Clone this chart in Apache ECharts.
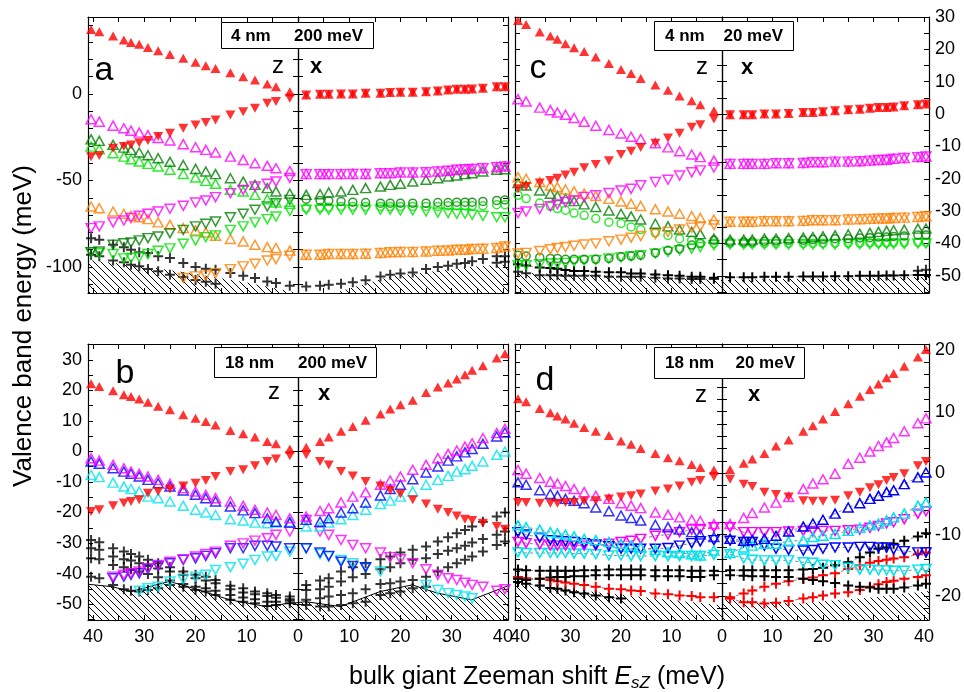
<!DOCTYPE html>
<html><head><meta charset="utf-8">
<script src="https://cdn.jsdelivr.net/npm/echarts@6/dist/echarts.min.js"></script>
<style>html,body{margin:0;padding:0;background:#fff}#c{width:964px;height:692px}</style>
</head><body><div id="c"></div>
<script>
// ---------- field values (bulk giant Zeeman shift, meV) ----------
const E_field = [1.6, 4.3, 6.0, 8.4, 10.7, 13.2, 16.1, 18.0, 20.0, 22.4, 25.0, 27.3, 29.3, 31.0, 32.6, 34.0, 36.1, 38.8, 40.4];
const E_desc = E_field.slice().reverse();   // z-half is drawn 40 -> 0

// ---------- tick values / labels ----------
const xTicks = [-40,-35,-30,-25,-20,-15,-10,-5,0,5,10,15,20,25,30,35,40];
const xLabels = [-40,-30,-20,-10,0,10,20,30,40];
const a_yTicks = [-110,-100,-90,-80,-70,-60,-50,-40,-30,-20,-10,0,10,20,30,40];
const a_yLabels = [-100,-50,0];
const c_yTicks = [-55,-50,-45,-40,-35,-30,-25,-20,-15,-10,-5,0,5,10,15,20,25,30];
const c_yLabels = [-50,-40,-30,-20,-10,0,10,20,30];
const b_yTicks = [-55,-50,-45,-40,-35,-30,-25,-20,-15,-10,-5,0,5,10,15,20,25,30,35];
const b_yLabels = [-50,-40,-30,-20,-10,0,10,20,30];
const d_yTicks = [-22,-20,-18,-16,-14,-12,-10,-8,-6,-4,-2,0,2,4,6,8,10,12,14,16,18,20];
const d_yLabels = [-20,-10,0,10,20];

// ---------- panel a (4 nm, 200 meV) ----------
const a_z_redUp = [37.3,36.0,33.5,31.2,29.8,28.7,26.9,25.0,22.9,20.6,18.3,16.3,14.8,12.3,10.0,8.1,5.8,4.2,1.3];
const a_z_redDn = [-36.2,-35.6,-31.3,-30.4,-29.4,-28.1,-26.9,-24.6,-22.7,-19.8,-17.9,-16.5,-15.0,-12.1,-10.2,-8.3,-5.4,-4.4,-2.5];
const a_z_magUp = [-14.6,-16.0,-18.3,-19.8,-21.2,-22.3,-23.8,-25.4,-26.9,-29.0,-30.8,-32.3,-33.8,-36.2,-38.1,-40.0,-41.5,-42.9,-44.5];
const a_z_magDn = [-77.5,-76.5,-74.2,-73.1,-71.7,-70.4,-69.2,-67.9,-66.3,-64.6,-62.7,-61.5,-59.6,-57.3,-55.4,-53.5,-51.9,-50.6,-48.5];
const a_z_dgUp = [-26.2,-27.1,-29.4,-31.0,-32.3,-33.8,-35.4,-37.1,-39.2,-41.0,-43.3,-44.8,-46.3,-48.7,-50.6,-52.5,-54.4,-56.3,-57.5];
const a_z_dgDn = [-91.5,-91.0,-87.1,-86.2,-85.8,-84.6,-83.3,-82.3,-80.4,-78.5,-76.5,-75.0,-73.7,-71.2,-69.2,-66.9,-65.0,-63.1,-61.2];
const a_z_lgUp = [-30.4,-31.9,-34.2,-36.2,-37.7,-39.0,-40.4,-41.9,-43.8,-46.2,-48.3,-50.2,-51.9,-55.4,-56.3,-58.3,-60.8,-62.7,-63.5];
const a_z_lgDn = [-91.5,-92.0,-92.5,-95.0,-94.8,-94.2,-92.5,-90.6,-89.2,-86.5,-84.6,-82.7,-81.7,-78.5,-76.5,-74.2,-72.3,-70.8,-67.5];
const a_z_orUp = [-65.0,-66.0,-67.9,-69.2,-70.4,-71.2,-72.3,-74.2,-75.6,-77.5,-78.8,-80.0,-81.9,-83.8,-85.2,-87.1,-88.5,-89.0,-90.5];
const a_z_orDn = [null,null,null,null,null,null,null,null,null,-106.3,-105.4,-104.8,-103.5,-101.2,-99.6,-98.1,-96.2,-95.4,-93.5];
const a_z_blk1 = [-83.3,-84.2,-87.1,-88.5,-90.0,-91.5,-91.9,-93.8,-94.8,-97.7,-100.0,-101.0,-101.5,-103.5,-105.0,-106.3,-108.3,-109.2,-110.8];
const a_z_blk2 = [-92.9,-93.8,-96.2,-97.3,-98.7,-99.6,-101.2,-102.5,-104.4,-105.8,-107.5,-108.5,-109.6,null,null,null,null,null,null];
const a_x_red = [-0.6,-0.2,-0.2,0.0,0.0,0.4,0.4,0.8,1.0,1.0,1.3,1.7,2.3,2.7,2.7,2.9,3.3,4.2,4.2];
const a_x_mag = [-46.3,-46.3,-46.3,-46.3,-46.2,-46.2,-45.8,-45.8,-45.4,-45.4,-45.2,-44.8,-44.4,-43.8,-43.5,-43.3,-42.9,-42.3,-41.9];
const a_x_dgUp = [-58.3,-57.9,-56.9,-56.3,-55.4,-54.4,-53.5,-52.5,-51.9,-50.6,-49.6,-48.7,-47.7,-47.1,-46.3,-45.8,-44.8,-43.8,-43.5];
const a_x_dgCirc = [-60.8,-61.5,-61.7,-62.1,-62.5,-62.7,-63.1,-63.1,-63.1,-63.1,-63.1,-62.7,-62.7,-62.5,-62.5,-62.5,-62.1,-61.5,-61.2];
const a_x_lgCirc = [-66.0,-65.6,-65.4,-65.0,-65.0,-65.0,-65.0,-65.0,-65.0,-65.0,-65.0,-65.0,-64.6,-64.6,-64.6,-64.6,-64.6,-64.0,-64.0];
const a_x_lgDn = [-66.9,-66.9,-66.9,-66.9,-66.9,-66.9,-66.9,-66.9,-67.3,-67.3,-67.9,-68.5,-68.8,-69.2,-69.2,-69.8,-70.4,-71.2,-71.2];
const a_x_or = [-92.9,-92.9,-92.5,-92.5,-92.5,-92.3,-91.9,-91.5,-91.3,-91.3,-91.0,-90.6,-90.4,-90.0,-90.0,-89.6,-89.4,-89.0,-88.1];
const a_x_blk1 = [-111.2,-110.8,-110.2,-109.6,-108.8,-107.7,-105.4,-104.4,-103.8,-103.1,-101.2,-100.0,-99.2,-98.1,-97.7,-96.7,-95.4,-93.8,-93.8];
const a_x_blk2 = [null,null,null,null,null,null,null,null,null,null,null,null,null,null,null,null,null,-97.5,-97.0];
const a_hatchZ_E = [41,30,20,10,0];
const a_hatchZ_v = [-96,-99.5,-104,-109,-115];
const a_hatchX_E = [0,7,18,35,41];
const a_hatchX_v = [-115,-115,-105.4,-99.6,-98.5];

// ---------- panel c (4 nm, 20 meV) ----------
const c_z_redUp = [28.9,27.7,25.4,24.1,23.1,21.7,20.5,19.3,17.6,15.6,13.8,12.5,11.0,9.0,7.4,5.6,4.1,2.9,1.0];
const c_z_redDn = [-23.1,-22.4,-21.3,-20.5,-19.8,-18.8,-18.0,-16.6,-15.6,-14.4,-12.5,-11.5,-10.3,-9.0,-7.4,-5.9,-4.1,-3.3,-1.5];
const c_z_magUp = [4.6,3.9,2.0,1.2,0.5,-0.2,-1.2,-2.4,-3.6,-4.9,-6.0,-7.0,-7.7,-9.0,-10.3,-11.5,-12.5,-13.3,-14.4];
const c_z_magDn = [-30.6,-30.1,-29.3,-28.5,-27.9,-27.2,-26.7,-25.6,-25.1,-24.4,-23.6,-23.1,-22.0,-21.0,-20.3,-19.0,-18.0,-17.4,-16.5];
const c_z_orUp = [-19.5,-20.0,-21.0,-22.1,-22.6,-23.3,-23.9,-24.6,-25.3,-26.2,-27.0,-27.7,-28.4,-29.4,-30.1,-30.8,-31.5,-32.1,-32.6];
const c_z_orDn = [-43.1,-42.9,-42.3,-41.8,-41.4,-41.1,-40.7,-40.3,-40.0,-39.3,-38.8,-38.2,-37.7,-37.1,-36.4,-35.7,-35.1,-34.7,-34.3];
const c_z_dgUp = [-21.3,-22.1,-23.6,-24.6,-25.3,-26.1,-26.9,-27.9,-28.7,-29.8,-30.8,-31.6,-32.6,-33.9,-34.7,-35.7,-36.4,-37.1,-38.5];
const c_z_lgCirc = [-25.1,-26.1,-27.5,-28.5,-29.2,-29.7,-30.6,-31.3,-32.3,-33.4,-33.8,-34.9,-35.7,-36.7,-37.5,-38.5,-39.0,-39.8,-40.0];
const c_z_dgCirc = [-43.6,-43.9,-44.3,-44.6,-44.6,-44.9,-44.9,-44.9,-44.9,-44.6,-44.1,-43.9,-43.6,-42.9,-42.1,-41.6,-40.5,-40.0,-39.0];
const c_z_lgDn = [-46.7,-46.7,-46.4,-46.2,-46.2,-46.0,-45.6,-45.3,-45.1,-44.6,-44.3,-43.9,-43.6,-43.1,-42.6,-42.1,-41.6,-41.1,-40.5];
const c_z_blk1 = [-46.4,-46.8,-47.4,-47.6,-47.8,-48.2,-48.5,-48.5,-48.7,-48.9,-48.9,-49.3,-49.3,-49.6,-49.8,-50.0,-50.3,-50.3,-50.6];
const c_z_blk2 = [-48.7,-49.2,-49.8,-49.8,-49.8,-50.0,-50.0,-50.0,-50.0,-50.3,-50.3,-50.3,-50.3,-50.6,-50.8,-50.8,-51.0,-51.0,-51.0];
const c_x_red = [-0.2,-0.2,-0.2,0.0,0.0,0.2,0.5,0.5,0.7,1.0,1.3,1.5,1.8,2.0,2.0,2.2,2.6,2.9,3.1];
const c_x_mag = [-15.4,-15.4,-15.4,-15.4,-15.2,-15.2,-15.1,-14.9,-14.9,-14.7,-14.7,-14.6,-14.4,-14.2,-14.1,-13.8,-13.6,-13.3,-13.1];
const c_x_or = [-33.3,-33.3,-33.3,-33.1,-33.1,-33.1,-33.0,-32.8,-32.8,-32.8,-32.6,-32.5,-32.4,-32.3,-32.3,-32.1,-32.0,-31.8,-31.6];
const c_x_dgUp = [-38.8,-38.8,-38.8,-38.5,-38.5,-38.3,-38.2,-38.0,-37.8,-37.5,-37.2,-37.0,-36.7,-36.4,-36.1,-35.9,-35.7,-35.4,-35.4];
const c_x_dgCirc = [-39.5,-39.5,-39.5,-39.3,-39.2,-39.0,-39.0,-38.8,-38.7,-38.5,-38.5,-38.3,-38.2,-38.0,-38.0,-37.8,-37.7,-37.4,-37.4];
const c_x_lgCirc = [-40.0,-40.0,-40.0,-40.0,-40.0,-40.0,-40.0,-40.0,-39.9,-39.9,-39.9,-39.9,-39.8,-39.8,-39.8,-39.7,-39.7,-39.6,-39.6];
const c_x_lgDn = [-40.3,-40.3,-40.3,-40.3,-40.3,-40.3,-40.3,-40.3,-40.3,-40.3,-40.2,-40.2,-40.2,-40.2,-40.2,-40.1,-40.1,-40.0,-40.0];
const c_x_blk1 = [-50.4,-50.4,-50.4,-50.3,-50.3,-50.3,-50.2,-50.2,-50.2,-50.1,-50.1,-50.0,-50.0,-50.0,-49.9,-49.9,-49.8,-49.7,-49.7];
const c_x_blk2 = [null,null,null,null,null,null,null,null,null,null,null,null,null,null,null,null,null,-48.4,-48.1];
const c_hatchZ_E = [41,20,0];
const c_hatchZ_v = [-49,-50,-51.3];
const c_hatchX_E = [0,20,41];
const c_hatchX_v = [-51.3,-50.8,-50.3];

// ---------- panel b (18 nm, 200 meV) ----------
const b_z_redUp = [22.2,21.3,19.9,18.6,18.0,17.2,16.1,14.8,13.7,12.0,10.9,9.8,8.7,6.9,5.8,4.7,3.3,2.5,0.8];
const b_z_redDn = [-19.7,-19.1,-17.8,-16.9,-16.4,-15.8,-13.7,-13.1,-12.3,-11.3,-10.4,-9.5,-8.2,-6.6,-6.0,-4.7,-3.3,-2.5,-1.4];
const b_z_magUp = [-2.2,-3.0,-4.4,-5.5,-6.6,-7.3,-8.2,-9.3,-10.6,-12.0,-13.1,-14.2,-15.3,-16.4,-17.8,-19.1,-20.0,-20.8,-21.9];
const b_z_blueUp = [-3.3,-4.0,-5.5,-6.6,-7.3,-8.2,-9.3,-10.4,-11.5,-12.8,-14.2,-15.3,-16.4,-18.0,-19.3,-20.2,-21.9,-23.0,-23.3];
const b_z_cyanUp = [-7.7,-8.4,-10.2,-11.5,-12.3,-13.1,-14.8,-15.3,-16.4,-17.8,-19.1,-20.0,-20.8,-22.2,-22.6,-23.3,-23.5,-23.3,-23.0];
const b_z_magDn = [null,null,-41.0,-40.4,-39.9,-39.3,-38.2,-37.2,-36.1,-35.3,-34.4,-33.6,-32.8,-30.9,-30.1,-29.2,-28.4,-27.3,-26.2];
const b_z_blueDn = [null,null,-41.5,-41.0,-40.4,-39.9,-38.5,-37.5,-36.6,-35.5,-35.0,-34.2,-33.3,-31.7,-31.7,-30.9,-30.9,-31.1,-31.7];
const b_z_cyanDn = [null,null,null,null,null,-45.6,-44.8,-44.3,-42.6,-41.8,-41.0,-40.4,-38.8,-37.9,-36.8,-35.5,-34.4,-34.2,-32.8];
const b_z_blkA = [-29.0,-29.7,-31.7,-32.8,-33.6,-34.4,-35.5,-36.6,-37.9,-39.3,-40.4,-41.0,-42.1,-44.0,-44.8,-45.9,-46.4,-47.0,-47.5];
const b_z_blkB = [-31.7,-32.2,-34.4,-35.3,-35.7,-36.6,-37.5,-38.3,-39.3,-40.4,-41.5,-42.3,-43.2,-45.1,-46.2,-46.8,-47.3,-47.9,-48.4];
const b_z_blkC = [-35.0,-35.3,-37.2,-37.9,-38.6,-39.3,-40.1,-41.2,-42.3,-43.4,-44.3,-44.8,-45.6,-47.0,-47.8,-48.4,-49.2,-49.2,-48.9];
const b_z_blkD = [-41.0,-41.5,-43.7,-45.1,-45.6,-45.9,-45.4,-44.8,-43.7,-44.3,-45.4,-45.9,-47.0,-48.6,-49.2,-49.7,-50.6,-50.3,-49.7];
const b_x_redUp = [1.4,3.3,4.7,6.6,8.2,10.2,12.3,13.9,15.3,16.8,19.3,21.1,22.4,23.7,25.1,26.6,28.1,30.6,32.0];
const b_x_redDn = [-1.1,-3.3,-4.4,-6.6,-8.0,-9.8,-11.3,-12.8,-13.9,-15.8,-17.2,-18.9,-20.0,-21.1,-22.2,-22.6,-23.5,-24.6,-25.5];
const b_x_magUp = [-21.3,-19.5,-18.6,-16.7,-14.8,-13.4,-10.9,-9.5,-8.2,-6.0,-4.4,-2.2,-0.8,0.3,1.6,2.7,4.4,6.0,7.4];
const b_x_blueUp = [-22.4,-23.0,-21.9,-20.0,-18.6,-16.7,-14.4,-12.3,-10.9,-9.1,-6.9,-4.9,-3.0,-1.6,-0.3,0.8,2.5,4.9,6.2];
const b_x_cyanUp = [-24.6,-24.6,-23.3,-22.2,-20.8,-19.1,-17.2,-16.1,-14.8,-13.1,-10.9,-9.3,-8.0,-6.6,-5.8,-4.7,-3.3,-1.1,0.0];
const b_x_magDn = [-22.4,-26.2,-27.3,-29.0,-30.6,-31.7,-33.1,-34.6,-35.3,-36.6,-38.6,-40.4,-41.5,-42.1,-43.0,-43.7,-44.3,-45.6,-45.1];
const b_x_blueDn = [-31.7,-33.1,-34.2,-36.1,-37.5,-37.9,null,null,null,null,null,null,null,null,null,null,null,null,null];
const b_x_cyanDn = [-31.7,-33.6,-34.4,-35.5,-36.6,-37.9,-39.3,null,null,null,-43.7,-45.4,-46.4,-47.0,-47.5,-48.1,null,null,null];
const b_x_blkA = [-43.7,-42.3,-41.5,-39.3,-37.9,-36.6,-35.3,-34.4,-33.1,-32.2,-31.1,-29.5,-28.1,-26.8,-25.7,-24.6,-23.0,-21.3,-20.0];
const b_x_blkB = [-45.4,-45.1,-44.3,-42.6,-41.2,-40.1,-38.6,-37.9,-36.6,-35.5,-35.0,-33.6,-32.5,-31.7,-30.9,-29.8,-28.7,-27.3,-26.2];
const b_x_blkC = [-48.6,-48.1,-47.5,-47.0,-46.4,-45.1,-43.4,-43.2,-42.6,-42.1,-41.0,-39.3,-37.9,-36.6,-35.5,-34.4,-32.8,-30.6,-29.5];
const b_x_blkD = [-50.3,-50.8,-50.8,-50.3,-49.7,-49.2,-47.0,-46.4,-45.9,-44.8,-44.3,null,null,null,null,null,null,null,null];
const b_hatchZ_E = [41,36.2,32.7,25.2,22.6,13.3,6.2,1.8,0];
const b_hatchZ_v = [-43.5,-44.3,-45.9,-42.6,-43.7,-48.6,-50.8,-49.7,-49.5];
const b_hatchX_E = [0,1.5,8.3,16,22.3,27.2,33.9,41];
const b_hatchX_v = [-49.5,-49.2,-50.8,-45.9,-43.7,-46.4,-48.6,-44.0];

// ---------- panel d (18 nm, 20 meV) ----------
const d_z_redUp = [12.1,11.6,10.5,9.8,9.3,8.8,8.1,7.4,6.8,6.1,5.2,4.7,4.0,3.2,2.5,2.0,1.4,0.9,0.5];
const d_z_redDn = [-4.8,-4.8,-4.9,-4.9,-4.9,-4.8,-4.8,-4.6,-4.5,-4.2,-3.9,-3.7,-3.4,-2.9,-2.6,-2.1,-1.5,-1.2,-0.6];
const d_z_magUp = [0.5,-0.1,-0.8,-1.4,-1.7,-2.1,-2.6,-3.1,-3.7,-4.2,-4.9,-5.3,-5.7,-6.4,-6.8,-7.2,-7.6,-7.8,-8.3];
const d_z_blueUp = [-1.5,-1.9,-2.8,-3.4,-3.7,-4.2,-4.5,-4.9,-5.6,-6.2,-6.9,-7.3,-7.7,-8.4,-8.8,-9.2,-9.6,-10.0,-10.4];
const d_z_cyanUp = [-8.5,-8.8,-9.2,-9.6,-9.8,-10.0,-10.3,-10.7,-10.9,-11.2,-11.5,-11.8,-12.1,-12.5,-12.9,-13.0,-13.2,-13.4,-12.6];
const d_z_blueDn = [-9.6,-10.0,-10.5,-10.9,-11.0,-11.1,-11.2,-11.4,-11.6,-11.9,-12.3,-12.3,-12.3,-12.3,-12.2,-11.8,-11.4,-11.1,-10.9];
const d_z_magDn = [-11.2,-11.4,-11.6,-11.8,-11.8,-11.8,-11.8,-11.8,-11.8,-11.5,-11.2,-11.0,-10.7,-10.2,-10.0,-9.6,-9.2,-9.1,-8.8];
const d_z_cyanDn = [-12.9,-13.0,-13.0,-13.0,-13.0,-13.0,-13.1,-13.1,-13.2,-13.4,-13.4,-13.5,-13.5,-13.5,-13.5,-13.5,-13.5,-13.5,-13.3];
const d_z_blk1 = [-15.7,-15.8,-15.9,-15.9,-15.9,-15.9,-15.9,-15.8,-15.8,-15.7,-15.7,-15.7,-15.7,-15.8,-15.8,-15.8,-15.9,-15.9,-15.9];
const d_z_blk2 = [-17.2,-17.4,-17.2,-17.0,-16.9,-16.9,-16.8,-16.8,-16.6,-16.6,-16.6,-16.6,-16.6,-16.8,-16.8,-16.8,-16.9,-16.9,-16.6];
const d_z_blk3 = [-17.7,-18.0,-18.3,-18.7,-18.8,-19.1,-19.4,-19.6,-19.9,-20.2,-20.4,null,null,null,null,null,null,null,null];
const d_z_redX = [-16.9,-17.1,-17.2,-17.4,-17.6,-17.8,-18.0,-18.2,-18.5,-18.8,-18.9,-19.1,-19.2,-19.6,-19.7,-19.9,-20.0,-20.2,-20.2];
const d_x_redUp = [0.6,1.6,2.3,3.2,4.4,5.4,6.8,7.7,8.8,10.0,11.3,12.5,13.6,14.5,15.5,16.2,17.4,18.9,20.1];
const d_x_redDn = [-1.0,-1.8,-2.2,-3.1,-3.5,-3.9,-4.5,-4.6,-4.6,-4.4,-3.7,-3.1,-2.4,-1.9,-1.2,-0.7,-0.1,1.2,1.9];
const d_x_magUp = [-8.3,-7.3,-6.5,-5.6,-4.8,-3.9,-2.6,-1.7,-1.0,-0.1,1.5,2.5,3.5,4.4,5.0,5.7,6.8,8.1,8.9];
const d_x_blueUp = [-10.7,-11.0,-10.9,-10.7,-10.2,-9.5,-8.7,-8.2,-7.6,-6.6,-5.6,-4.9,-4.2,-3.7,-3.1,-2.8,-1.8,-0.7,0.1];
const d_x_magDn = [-8.8,-9.6,-9.6,-9.6,-9.6,-9.5,-9.4,-9.4,-9.4,-9.4,-9.3,-9.2,-8.9,-8.6,-8.2,-8.0,-7.5,-6.6,-6.2];
const d_x_cyanUp = [-13.0,-12.1,-11.8,-11.5,-11.5,-11.1,-10.9,-10.4,-10.2,-9.9,-9.4,-8.9,-8.5,-8.2,-7.7,-7.2,-6.6,-5.3,-4.8];
const d_x_blueDn = [-11.0,-11.2,-11.2,-11.8,-12.3,-12.5,-12.6,-12.5,-12.3,-12.1,-12.1,-12.0,-12.0,-12.1,-12.1,-12.4,-12.7,-12.9,-12.9];
const d_x_cyanDn = [-13.2,-13.9,-14.1,-14.2,-14.2,-14.2,-14.5,-14.6,-14.9,-15.0,-15.4,-15.7,-15.7,-15.8,-15.8,-15.9,-15.9,-15.7,-15.6];
const d_x_blk1 = [-15.8,-15.8,-15.8,-15.8,-15.8,-15.8,-15.7,-15.6,-15.4,-15.0,-14.5,-13.7,-12.9,-12.3,-12.1,-11.5,-11.0,-10.3,-9.8];
const d_x_blk2 = [-16.6,-16.7,-16.8,-16.8,-16.9,-16.9,-17.2,-17.4,-17.6,-17.9,-18.3,-18.5,-18.6,-18.8,-18.8,-18.8,-18.6,-18.3,-18.0];
const d_x_redX1 = [-20.2,-19.6,-19.1,-18.5,-18.0,-17.6,-17.2,-17.0,-16.6,-16.3,-15.6,-15.0,-14.6,-14.3,-14.1,-13.9,-13.7,-13.2,-12.9];
const d_x_redX2 = [-20.4,-21.0,-21.0,-21.2,-21.1,-20.8,-20.4,-20.2,-19.9,-19.6,-19.4,-19.0,-18.5,-18.1,-17.7,-17.5,-17.2,-16.9,-16.6];
const d_hatchZ_E = [41,20,0];
const d_hatchZ_v = [-18,-19.8,-21.5];
const d_hatchX_E = [0,15,30,41];
const d_hatchX_v = [-20.5,-21.2,-20.2,-19.2];

// ---------- styling ----------
const FONT = 'Liberation Sans, Arial, Helvetica, sans-serif';
const COL = {red:'#ff0000', mag:'#ff00ff', dg:'#008000', lg:'#00e400', or:'#ff8000', blue:'#0000ff', cyan:'#00e4ee', blk:'#000000'};
const SHAPE = {
  up:{symbol:'triangle', rot:0, size:[10,9]},
  dn:{symbol:'triangle', rot:180, size:[10,9]},
  circ:{symbol:'circle', rot:0, size:8},
  cross:{symbol:'path://M4,0h2v4h4v2h-4v4h-2v-4h-4v-2h4z', rot:0, size:10}
};

const panels = [
  {grid:{left:88, top:17, width:420, height:276}, ymin:-115, ymax:44.5, ticks:a_yTicks, labels:a_yLabels, side:'left', xlab:false,
   hatch:[[a_hatchZ_E,a_hatchZ_v,'z'],[a_hatchX_E,a_hatchX_v,'x']], hatchLine:0,
   s:[['z',a_z_blk2,'blk','cross',1],['z',a_z_blk1,'blk','cross',1],['z',a_z_orDn,'or','dn',0],['z',a_z_orUp,'or','up',0],
      ['z',a_z_lgDn,'lg','dn',0],['z',a_z_dgDn,'dg','dn',0],['z',a_z_lgUp,'lg','up',0],['z',a_z_dgUp,'dg','up',0],
      ['z',a_z_magDn,'mag','dn',0],['z',a_z_magUp,'mag','up',0],['z',a_z_redDn,'red','dn',1],['z',a_z_redUp,'red','up',1],
      ['x',a_x_blk2,'blk','cross',1],['x',a_x_blk1,'blk','cross',1],['x',a_x_or,'or','up',0],['x',a_x_or,'or','dn',0],
      ['x',a_x_lgDn,'lg','dn',0],['x',a_x_lgCirc,'lg','circ',0],['x',a_x_dgCirc,'dg','circ',0],['x',a_x_dgUp,'dg','up',0],
      ['x',a_x_mag,'mag','up',0],['x',a_x_mag,'mag','dn',0],['x',a_x_red,'red','up',1],['x',a_x_red,'red','dn',1]]},
  {grid:{left:515, top:17, width:420, height:276}, ymin:-55.3, ymax:30, ticks:c_yTicks, labels:c_yLabels, side:'right', xlab:false,
   hatch:[[c_hatchZ_E,c_hatchZ_v,'z'],[c_hatchX_E,c_hatchX_v,'x']], hatchLine:0,
   s:[['z',c_z_blk2,'blk','cross',1],['z',c_z_blk1,'blk','cross',1,1],['z',c_z_lgDn,'lg','dn',0],['z',c_z_dgCirc,'dg','circ',0],
      ['z',c_z_lgCirc,'lg','circ',0],['z',c_z_dgUp,'dg','up',0],['z',c_z_orDn,'or','dn',0],['z',c_z_orUp,'or','up',0],
      ['z',c_z_magDn,'mag','dn',0],['z',c_z_magUp,'mag','up',0],['z',c_z_redDn,'red','dn',1],['z',c_z_redUp,'red','up',1],
      ['x',c_x_blk2,'blk','cross',1],['x',c_x_blk1,'blk','cross',1,1],['x',c_x_lgDn,'lg','dn',0],['x',c_x_lgCirc,'lg','circ',0],
      ['x',c_x_dgCirc,'dg','circ',0],['x',c_x_dgUp,'dg','up',0],['x',c_x_or,'or','up',0],['x',c_x_or,'or','dn',0],
      ['x',c_x_mag,'mag','up',0],['x',c_x_mag,'mag','dn',0],['x',c_x_red,'red','up',1],['x',c_x_red,'red','dn',1]]},
  {grid:{left:88, top:344, width:420, height:276}, ymin:-55.2, ymax:35.2, ticks:b_yTicks, labels:b_yLabels, side:'left', xlab:true,
   hatch:[[b_hatchZ_E,b_hatchZ_v,'z'],[b_hatchX_E,b_hatchX_v,'x']], hatchLine:1,
   s:[['z',b_z_blkD,'blk','cross',1],['z',b_z_blkC,'blk','cross',1],['z',b_z_blkB,'blk','cross',1],['z',b_z_blkA,'blk','cross',1],
      ['z',b_z_cyanDn,'cyan','dn',0],['z',b_z_blueDn,'blue','dn',0],['z',b_z_magDn,'mag','dn',0],
      ['z',b_z_cyanUp,'cyan','up',0],['z',b_z_blueUp,'blue','up',0],['z',b_z_magUp,'mag','up',0],
      ['z',b_z_redDn,'red','dn',1],['z',b_z_redUp,'red','up',1],
      ['x',b_x_blkD,'blk','cross',1],['x',b_x_blkC,'blk','cross',1],['x',b_x_blkB,'blk','cross',1],['x',b_x_blkA,'blk','cross',1],
      ['x',b_x_cyanDn,'cyan','dn',0],['x',b_x_blueDn,'blue','dn',0],['x',b_x_magDn,'mag','dn',0],
      ['x',b_x_cyanUp,'cyan','up',0],['x',b_x_blueUp,'blue','up',0],['x',b_x_magUp,'mag','up',0],
      ['x',b_x_redDn,'red','dn',1],['x',b_x_redUp,'red','up',1]]},
  {grid:{left:515, top:344, width:420, height:276}, ymin:-23.9, ymax:21, ticks:d_yTicks, labels:d_yLabels, side:'right', xlab:true,
   hatch:[[d_hatchZ_E,d_hatchZ_v,'z'],[d_hatchX_E,d_hatchX_v,'x']], hatchLine:0,
   s:[['z',d_z_blk3,'blk','cross',1,1],['z',d_z_redX,'red','cross',1,1],['z',d_z_blk2,'blk','cross',1,1],['z',d_z_blk1,'blk','cross',1,1],
      ['z',d_z_cyanDn,'cyan','dn',0,1],['z',d_z_magDn,'mag','dn',0,1],['z',d_z_blueDn,'blue','dn',0,1],
      ['z',d_z_cyanUp,'cyan','up',0,1],['z',d_z_blueUp,'blue','up',0],['z',d_z_magUp,'mag','up',0],
      ['z',d_z_redDn,'red','dn',1],['z',d_z_redUp,'red','up',1],
      ['x',d_x_redX2,'red','cross',1,1],['x',d_x_redX1,'red','cross',1,1],['x',d_x_blk2,'blk','cross',1,1],['x',d_x_blk1,'blk','cross',1,1],
      ['x',d_x_cyanDn,'cyan','dn',0,1],['x',d_x_blueDn,'blue','dn',0,1],['x',d_x_magDn,'mag','dn',0,1],
      ['x',d_x_cyanUp,'cyan','up',0,1],['x',d_x_blueUp,'blue','up',0,1],['x',d_x_magUp,'mag','up',0],
      ['x',d_x_redDn,'red','dn',1],['x',d_x_redUp,'red','up',1]]}
];

function hatchCanvas(){
  const s = 7, c = document.createElement('canvas'); c.width = s; c.height = s;
  const g = c.getContext('2d'); g.strokeStyle = '#000'; g.lineWidth = 1;
  g.beginPath(); g.moveTo(-1,-1); g.lineTo(s+1,s+1); g.stroke();
  return c;
}
const HATCH = hatchCanvas();

const grids = [], xAxes = [], yAxes = [], series = [];
const lblStyle = {fontSize:18, color:'#000', fontFamily:FONT};
panels.forEach((p, g) => {
  grids.push(Object.assign({containLabel:false}, p.grid));
  const xBase = {type:'value', gridIndex:g, min:-41, max:41, splitLine:{show:false},
    axisLine:{onZero:false, lineStyle:{color:'#000', width:1.2}},
    axisTick:{inside:true, length:5, customValues:xTicks, lineStyle:{color:'#000'}}};
  xAxes.push(Object.assign({}, xBase, {position:'bottom',
    axisLabel: p.xlab ? Object.assign({show:true, margin:8, customValues:xLabels, formatter:v=>String(Math.abs(v))}, lblStyle) : {show:false}}));
  xAxes.push(Object.assign({}, xBase, {position:'top', axisLabel:{show:false}}));
  const yBase = {type:'value', gridIndex:g, min:p.ymin, max:p.ymax, splitLine:{show:false},
    axisLine:{onZero:false, lineStyle:{color:'#000', width:1.2}},
    axisTick:{inside:true, length:5, customValues:p.ticks, lineStyle:{color:'#000'}}, axisLabel:{show:false}};
  const lab = Object.assign({show:true, margin:6, customValues:p.labels}, lblStyle);
  yAxes.push(Object.assign({}, yBase, {position:'left', axisLabel: p.side==='left' ? lab : {show:false}}));
  yAxes.push(Object.assign({}, yBase, {position:'right', axisLabel: p.side==='right' ? lab : {show:false}}));
  const mid = {axisLine:{onZero:true, onZeroAxisIndex:g*2, lineStyle:{color:'#000', width:1.2}}};
  yAxes.push(Object.assign({}, yBase, {position:'left'}, mid));
  yAxes.push(Object.assign({}, yBase, {position:'right'}, mid));

  p.hatch.forEach(h => {
    const data = h[0].map((e,i) => [h[2]==='z' ? -e : e, h[1][i]]);
    series.push({type:'line', xAxisIndex:g*2, yAxisIndex:g*4, data, showSymbol:false, silent:true, z:1,
      lineStyle:{color:'#000', width:p.hatchLine}, areaStyle:{origin:'start', opacity:1, color:{image:HATCH, repeat:'repeat'}}});
  });
  p.s.forEach(sp => {
    const [half, arr, ck, shp, filled, dashed] = sp;
    const data = [];
    arr.forEach((v,i) => { if (v !== null) data.push([half==='z' ? -E_desc[i] : E_field[i], v]); });
    const sh = SHAPE[shp], col = COL[ck];
    const itemStyle = filled ? {color:col, borderWidth:0} : {color:'rgba(255,255,255,0)', borderColor:col, borderWidth:1.5};
    const s = {type: dashed ? 'line' : 'scatter', xAxisIndex:g*2, yAxisIndex:g*4, data, symbol:sh.symbol, symbolSize:sh.size,
      symbolRotate:sh.rot, itemStyle, silent:true, z:3};
    if (dashed) { s.showSymbol = true; s.showAllSymbol = true; s.lineStyle = {type:[3,3], width:0.7, color:'#555'}; }
    series.push(s);
  });
});

// ---------- annotation texts ----------
const T = (x,y,text,font,extra) => Object.assign({type:'text', x, y, silent:true, z:100,
  style:{text, font, fill:'#000', textAlign:'center', textVerticalAlign:'middle'}}, extra||{});
const boxes = [
  {x:221,y:22,w:152,h:26,l:'4 nm',r:'200 meV',lx:231,rx:363},
  {x:654,y:21,w:139,h:29,l:'4 nm',r:'20 meV',lx:665,rx:783},
  {x:214,y:347,w:162,h:30,l:'18 nm',r:'200 meV',lx:225,rx:367},
  {x:654,y:347,w:150,h:31,l:'18 nm',r:'20 meV',lx:665,rx:795}
];
const graphics = [];
boxes.forEach(b => {
  graphics.push({type:'rect', shape:{x:b.x+0.5,y:b.y+0.5,width:b.w,height:b.h}, style:{fill:'#fff', stroke:'#000', lineWidth:1}, z:99, silent:true});
  graphics.push({type:'text', x:b.lx, y:b.y+b.h/2+1, z:100, silent:true, style:{text:b.l, font:'bold 17px '+FONT, fill:'#000', textAlign:'left', textVerticalAlign:'middle'}});
  graphics.push({type:'text', x:b.rx, y:b.y+b.h/2+1, z:100, silent:true, style:{text:b.r, font:'bold 17px '+FONT, fill:'#000', textAlign:'right', textVerticalAlign:'middle'}});
});
const letters = [['a',104,71],['c',538,69],['b',125,374],['d',545,381]];
letters.forEach(l => graphics.push(T(l[1], l[2], l[0], '34px '+FONT)));
const zx = [[278,66,316,67],[702,67,747,68],[274,392,324,394],[701,395,754,395]];
zx.forEach(q => { graphics.push(T(q[0],q[1],'z','24px '+FONT)); graphics.push(T(q[2],q[3],'x','bold 22px '+FONT)); });
graphics.push(T(24, 326, 'Valence band energy (meV)', '26px '+FONT, {rotation:Math.PI/2}));
graphics.push({type:'text', x:537, y:677, z:100, silent:true, style:{
  text:'{n|bulk giant Zeeman shift }{e|E}{s|sZ}{n| (meV)}', textAlign:'center', textVerticalAlign:'middle', fill:'#000',
  rich:{n:{fontSize:25, fontFamily:FONT, lineHeight:30, verticalAlign:'middle'},
        e:{fontSize:25, fontFamily:FONT, fontStyle:'italic', lineHeight:30, verticalAlign:'middle'},
        s:{fontSize:17, fontFamily:FONT, fontStyle:'italic', lineHeight:14, verticalAlign:'bottom'}}}});

const chart = echarts.init(document.getElementById('c'), null, {renderer:'canvas'});
chart.setOption({animation:false, backgroundColor:'#fff', grid:grids, xAxis:xAxes, yAxis:yAxes, series, graphic:graphics});
</script></body></html>
